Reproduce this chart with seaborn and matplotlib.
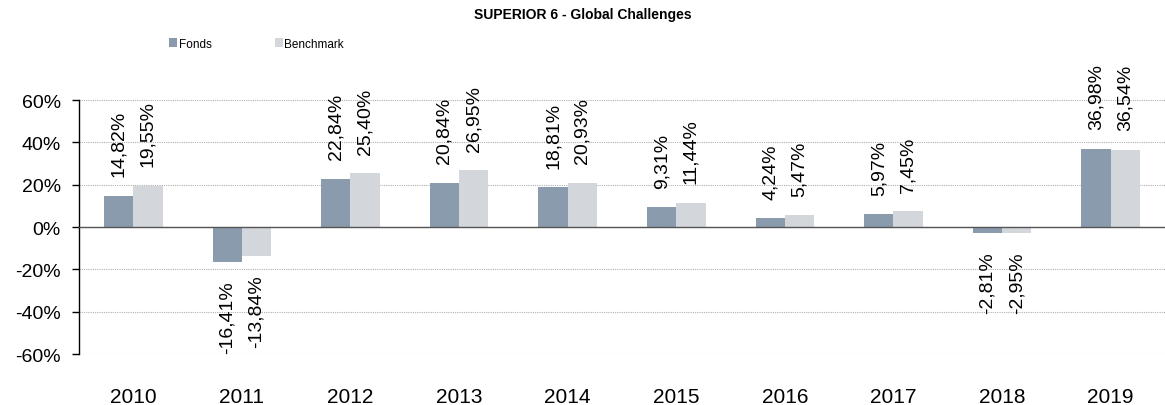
import matplotlib
matplotlib.use('Agg')
import matplotlib.pyplot as plt
import seaborn as sns
import pandas as pd

years = ['2010', '2011', '2012', '2013', '2014', '2015', '2016', '2017', '2018', '2019']
fonds = [14.82, -16.41, 22.84, 20.84, 18.81, 9.31, 4.24, 5.97, -2.81, 36.98]
benchmark = [19.55, -13.84, 25.40, 26.95, 20.93, 11.44, 5.47, 7.45, -2.95, 36.54]
series = ['Fonds', 'Benchmark']
colors = ['#8a9bad', '#d3d6db']

df = pd.DataFrame({
    'year': years * 2,
    'value': fonds + benchmark,
    'series': ['Fonds'] * len(years) + ['Benchmark'] * len(years),
})

sns.set_style('white')
plt.rcParams['font.family'] = ['Liberation Sans', 'DejaVu Sans']
plt.rcParams['text.color'] = 'black'
plt.rcParams['xtick.color'] = 'black'
plt.rcParams['ytick.color'] = 'black'

fig = plt.figure(figsize=(11.65, 4.06), dpi=100)
ax = fig.add_axes([0.0678, 0.1256, 0.9322, 0.6256])

sns.barplot(data=df, x='year', y='value', hue='series', hue_order=series,
            palette=colors, width=0.54, saturation=1, ax=ax, errorbar=None,
            linewidth=0)

ax.set_xlim(-0.5, 9.5)
ax.set_ylim(-60, 60)
ax.set_yticks(range(-60, 61, 20))
ax.set_yticklabels([f'{t}%' for t in range(-60, 61, 20)], fontsize=14)
ax.yaxis.grid(True, linestyle=(0, (1, 1)), color='#b0b0b0', linewidth=0.8)
ax.set_axisbelow(True)
ax.axhline(0, color='#555555', linewidth=1.0, zorder=3)

for s in ['top', 'right', 'bottom']:
    ax.spines[s].set_visible(False)
ax.spines['left'].set_color('black')
ax.spines['left'].set_linewidth(1.0)
ax.tick_params(axis='y', left=True, length=5, width=1, color='black', pad=8)
ax.tick_params(axis='x', bottom=False, labelsize=15, pad=20)
ax.set_xlabel('')
ax.set_ylabel('')

# value labels
for cont in ax.containers:
    for bar in cont:
        v = bar.get_height()
        txt = f'{v:.2f}%'.replace('.', ',')
        x = bar.get_x() + bar.get_width() / 2
        if v >= 0:
            ax.annotate(txt, (x, v), xytext=(0, 14), textcoords='offset points',
                        rotation=90, ha='center', va='bottom', fontsize=14)
        else:
            ax.annotate(txt, (x, v), xytext=(0, -13), textcoords='offset points',
                        rotation=90, ha='center', va='top', fontsize=14)

sns.move_legend(ax, 'center left', bbox_to_anchor=(0.136, 0.89), bbox_transform=fig.transFigure,
                ncol=2, frameon=False, title=None, fontsize=8.5,
                handlelength=0.7, handleheight=0.7, handletextpad=0.1, columnspacing=5.35)

fig.text(0.5, 0.963, 'SUPERIOR 6 - Global Challenges', ha='center', va='center',
         fontsize=10, fontweight='bold')

fig.savefig('out.png', dpi=100)
